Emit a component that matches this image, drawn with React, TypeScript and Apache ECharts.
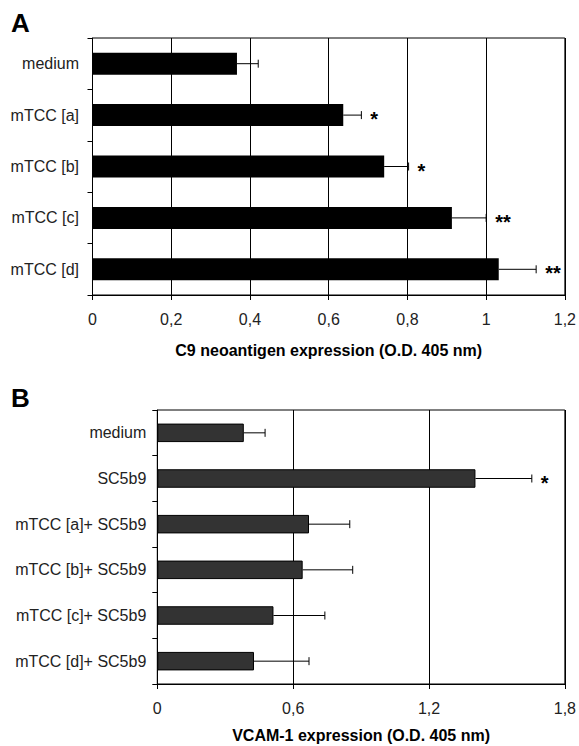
import React, { useEffect, useRef } from "react";
import * as echarts from "echarts";

const catsA = ["medium", "mTCC [a]", "mTCC [b]", "mTCC [c]", "mTCC [d]"];
const meanA = [0.367, 0.637, 0.741, 0.913, 1.032];
const errA = [0.054, 0.046, 0.062, 0.087, 0.095];
const sigA = ["", "*", "*", "**", "**"];

const catsB = [
  "medium",
  "SC5b9",
  "mTCC [a]+ SC5b9",
  "mTCC [b]+ SC5b9",
  "mTCC [c]+ SC5b9",
  "mTCC [d]+ SC5b9",
];
const meanB = [0.382, 1.405, 0.67, 0.642, 0.513, 0.427];
const errB = [0.094, 0.249, 0.18, 0.221, 0.227, 0.243];
const sigB = ["", "*", "", "", "", ""];

const titleA = "C9 neoantigen expression (O.D. 405 nm)";
const titleB = "VCAM-1 expression (O.D. 405 nm)";

const FONT = "'Liberation Sans', Arial, Helvetica, sans-serif";

function errSeries(gridIdx: number, means: number[], errs: number[], sigs: string[]) {
  return {
    type: "custom",
    xAxisIndex: gridIdx,
    yAxisIndex: gridIdx,
    z: 5,
    data: means.map((m, i) => [m, i, errs[i]]),
    encode: { x: 0, y: 1 },
    renderItem: (params: any, api: any) => {
      const v = api.value(0);
      const i = api.value(1);
      const e = api.value(2);
      const p0 = api.coord([v, i]);
      const p1 = api.coord([v + e, i]);
      const st = { stroke: "#000", lineWidth: 1 };
      const children: any[] = [
        { type: "line", shape: { x1: p0[0], y1: p0[1], x2: p1[0], y2: p1[1] }, style: st },
        { type: "line", shape: { x1: p1[0], y1: p1[1] - 4, x2: p1[0], y2: p1[1] + 4 }, style: st },
      ];
      const s = sigs[params.dataIndex];
      if (s) {
        children.push({
          type: "text",
          x: p1[0] + 9,
          y: p1[1] + 4,
          style: {
            text: s,
            fill: "#000",
            font: `bold 20px ${FONT}`,
            textAlign: "left",
            textVerticalAlign: "middle",
          },
        });
      }
      return { type: "group", children };
    },
  };
}

function valueAxis(gridIdx: number, max: number, interval: number, name: string, nameGap: number) {
  return {
    type: "value",
    gridIndex: gridIdx,
    min: 0,
    max,
    interval,
    name,
    nameLocation: "middle",
    nameGap,
    nameTextStyle: { fontFamily: FONT, fontWeight: "bold", fontSize: 16, color: "#000" },
    axisLine: { show: true, lineStyle: { color: "#000", width: 1 } },
    axisTick: { show: true, length: 5, lineStyle: { color: "#000" } },
    axisLabel: {
      margin: 16,
      fontFamily: FONT,
      fontSize: 16,
      color: "#222",
      formatter: (v: number) => String(Math.round(v * 10) / 10).replace(".", ","),
    },
    splitLine: { show: true, lineStyle: { color: "#000", width: 1 } },
  };
}

function catAxis(gridIdx: number, cats: string[], margin: number) {
  return {
    type: "category",
    gridIndex: gridIdx,
    data: cats,
    inverse: true,
    axisLine: { show: true, lineStyle: { color: "#000", width: 1 } },
    axisTick: { show: true, length: 5, lineStyle: { color: "#000" } },
    axisLabel: { margin, fontFamily: FONT, fontSize: 16, color: "#222" },
    splitLine: { show: false },
  };
}

export default function App() {
  const ref = useRef<HTMLDivElement>(null);
  useEffect(() => {
    if (!ref.current) return;
    const chart = echarts.init(ref.current, null, { renderer: "svg" });
    chart.setOption({
      animation: false,
      backgroundColor: "#fff",
      grid: [
        { left: 92.5, top: 38, right: 13.3, bottom: 451, show: true, borderColor: "#000", borderWidth: 1, backgroundColor: "transparent" },
        { left: 157.3, top: 410, right: 10.7, bottom: 62, show: true, borderColor: "#000", borderWidth: 1, backgroundColor: "transparent" },
      ],
      xAxis: [valueAxis(0, 1.2, 0.2, titleA, 47), valueAxis(1, 1.8, 0.6, titleB, 43)],
      yAxis: [catAxis(0, catsA, 13.5), catAxis(1, catsB, 11)],
      graphic: [
        { type: "text", left: 11, top: 10, style: { text: "A", font: `bold 26px ${FONT}`, fill: "#000" } },
        { type: "text", left: 11, top: 385, style: { text: "B", font: `bold 26px ${FONT}`, fill: "#000" } },
      ],
      series: [
        {
          type: "bar",
          xAxisIndex: 0,
          yAxisIndex: 0,
          data: meanA,
          barWidth: 22,
          itemStyle: { color: "#000" },
        },
        errSeries(0, meanA, errA, sigA),
        {
          type: "bar",
          xAxisIndex: 1,
          yAxisIndex: 1,
          data: meanB,
          barWidth: 18.5,
          itemStyle: { color: "#333", borderColor: "#000", borderWidth: 1 },
        },
        errSeries(1, meanB, errB, sigB),
      ],
    });
    return () => chart.dispose();
  }, []);
  return (
    <div
      ref={ref}
      style={{ position: "absolute", left: 0, top: 0, width: 579, height: 746 }}
    />
  );
}
